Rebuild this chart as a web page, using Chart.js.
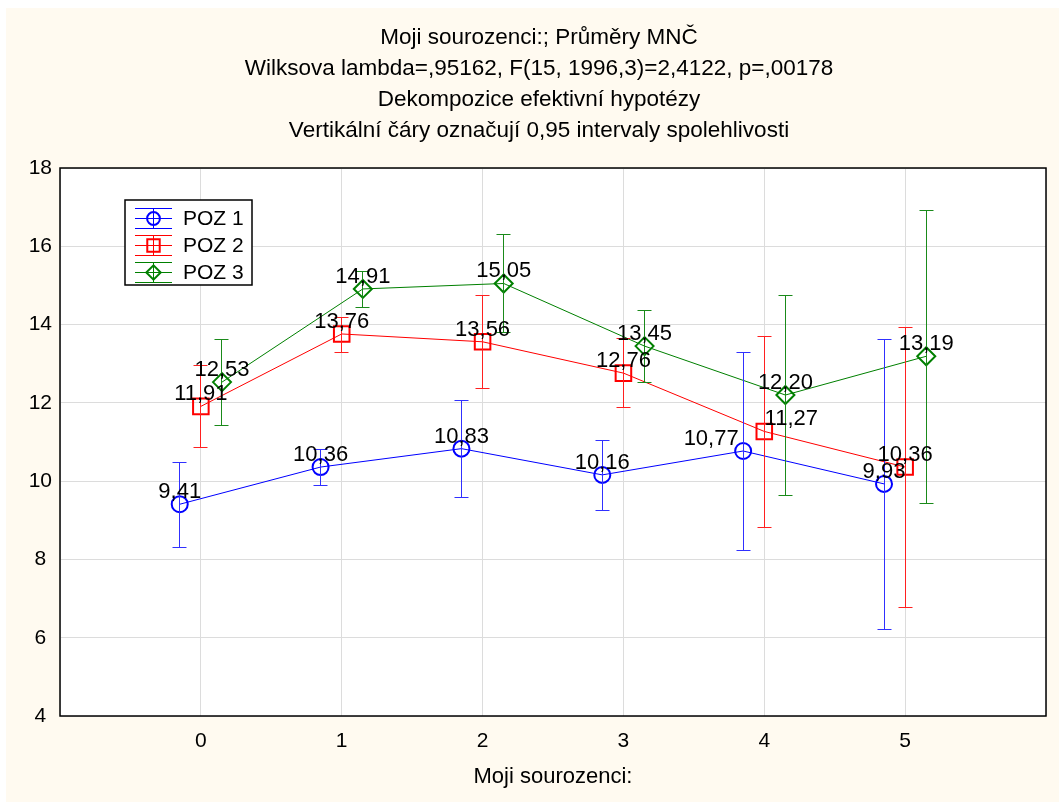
<!DOCTYPE html>
<html>
<head>
<meta charset="utf-8">
<script src="https://cdn.jsdelivr.net/npm/chart.js@4"></script>
<style>
body { margin: 0; background: #ffffff; }
#chart1 { display: block; }
</style>
</head>
<body>
<canvas id="chart1" width="1059" height="802"></canvas>
<script>
var categories = [0, 1, 2, 3, 4, 5];
var seriesNames = ["POZ 1", "POZ 2", "POZ 3"];

var poz1Mean = [9.41, 10.36, 10.83, 10.16, 10.77, 9.93];
var poz1Lo = [8.33, 9.90, 9.60, 9.26, 8.24, 6.22];
var poz1Hi = [10.50, 10.81, 12.07, 11.05, 13.31, 13.63];

var poz2Mean = [11.91, 13.76, 13.56, 12.76, 11.27, 10.36];
var poz2Lo = [10.87, 13.31, 12.37, 11.89, 8.82, 6.78];
var poz2Hi = [12.97, 14.20, 14.76, 13.65, 13.72, 13.95];

var poz3Mean = [12.53, 14.91, 15.05, 13.45, 12.20, 13.19];
var poz3Lo = [11.43, 14.44, 13.82, 12.54, 9.65, 9.45];
var poz3Hi = [13.62, 15.38, 16.31, 14.37, 14.76, 16.93];

var yTicks = [4, 6, 8, 10, 12, 14, 16, 18];

var titleLines = [
    "Moji sourozenci:; Průměry MNČ",
    "Wilksova lambda=,95162, F(15, 1996,3)=2,4122, p=,00178",
    "Dekompozice efektivní hypotézy",
    "Vertikální čáry označují 0,95 intervaly spolehlivosti"
];
var xTitle = "Moji sourozenci:";

var FONT = "'Liberation Sans', Arial, sans-serif";
var colors = ['#0000ff', '#ff0000', '#008000'];
var barColors = ['#3030ff', '#ff2020', '#1a8a1a'];
var shapes = ['circle', 'rect', 'rectRot'];
var radii = [8, 11, 9];
var shift = [-0.15, 0, 0.15];
// a couple of labels are pushed sideways to dodge overlaps (px)
var labelNudge = { '0:4': -32, '1:4': 27 };

var means = [poz1Mean, poz2Mean, poz3Mean];
var lows = [poz1Lo, poz2Lo, poz3Lo];
var highs = [poz1Hi, poz2Hi, poz3Hi];

function pts(k) {
    return categories.map(function (c, i) {
        return { x: c + shift[k], y: means[k][i], lo: lows[k][i], hi: highs[k][i] };
    });
}

var datasets = seriesNames.map(function (name, k) {
    return {
        label: name,
        data: pts(k),
        showLine: true,
        borderColor: colors[k],
        backgroundColor: 'rgba(0,0,0,0)',
        borderWidth: 1,
        pointStyle: shapes[k],
        pointRadius: radii[k],
        pointBorderWidth: 2,
        pointBorderColor: colors[k],
        pointBackgroundColor: 'rgba(0,0,0,0)'
    };
});

var backdrop = {
    id: 'backdrop',
    beforeDraw: function (chart) {
        var ctx = chart.ctx, a = chart.chartArea;
        ctx.save();
        ctx.fillStyle = '#ffffff';
        ctx.fillRect(0, 0, chart.width, chart.height);
        ctx.fillStyle = '#fffaf0';
        ctx.fillRect(6, 8, chart.width - 6, chart.height - 8);
        ctx.fillStyle = '#ffffff';
        ctx.fillRect(a.left, a.top, a.right - a.left, a.bottom - a.top);
        // title block, centred a bit left of the plot centre like the original
        ctx.fillStyle = '#000000';
        ctx.font = '22.5px ' + FONT;
        ctx.textAlign = 'center';
        ctx.textBaseline = 'middle';
        titleLines.forEach(function (line, i) {
            ctx.fillText(line, 539, 38 + i * 31);
        });
        ctx.restore();
    }
};

function drawErrorBars(chart) {
    var ctx = chart.ctx, xs = chart.scales.x, ys = chart.scales.y;
    ctx.save();
    ctx.lineWidth = 1;
    chart.data.datasets.forEach(function (ds, k) {
        ctx.strokeStyle = barColors[k];
        ds.data.forEach(function (p) {
            var px = Math.round(xs.getPixelForValue(p.x) - 0.5) + 0.5;
            var top = Math.round(ys.getPixelForValue(p.hi)) + 0.5;
            var bot = Math.round(ys.getPixelForValue(p.lo)) + 0.5;
            ctx.beginPath();
            ctx.moveTo(px, top); ctx.lineTo(px, bot);
            ctx.moveTo(px - 7, top); ctx.lineTo(px + 7, top);
            ctx.moveTo(px - 7, bot); ctx.lineTo(px + 7, bot);
            ctx.stroke();
        });
    });
    ctx.restore();
}

var valueLabels = {
    id: 'valueLabels',
    afterDatasetsDraw: function (chart) {
        drawErrorBars(chart);
        var ctx = chart.ctx;
        ctx.save();
        ctx.font = '22px ' + FONT;
        ctx.fillStyle = '#000000';
        ctx.textAlign = 'center';
        ctx.textBaseline = 'alphabetic';
        chart.data.datasets.forEach(function (ds, k) {
            var meta = chart.getDatasetMeta(k);
            meta.data.forEach(function (el, i) {
                var dx = labelNudge[k + ':' + i] || 0;
                var txt = ds.data[i].y.toFixed(2).replace('.', ',');
                ctx.fillText(txt, el.x + dx, el.y - 6);
            });
        });
        // frame of the plot area
        var a = chart.chartArea;
        ctx.strokeStyle = '#000000';
        ctx.lineWidth = 1.5;
        ctx.strokeRect(a.left, a.top, a.right - a.left, a.bottom - a.top);
        ctx.restore();
    }
};

var boxLegend = {
    id: 'boxLegend',
    afterDraw: function (chart) {
        var ctx = chart.ctx;
        var bx = 125, by = 200, bw = 127, bh = 85;
        ctx.save();
        ctx.fillStyle = '#ffffff';
        ctx.fillRect(bx, by, bw, bh);
        ctx.strokeStyle = '#000000';
        ctx.lineWidth = 1.5;
        ctx.strokeRect(bx, by, bw, bh);
        ctx.font = '21px ' + FONT;
        ctx.textBaseline = 'middle';
        ctx.textAlign = 'left';
        seriesNames.forEach(function (name, k) {
            var cy = 218.5 + k * 27;
            var x0 = 135, x1 = 172, cx = 153.5;
            ctx.strokeStyle = colors[k];
            ctx.lineWidth = 1;
            ctx.beginPath();
            ctx.moveTo(x0, cy); ctx.lineTo(x1, cy);
            ctx.moveTo(x0, cy - 10); ctx.lineTo(x1, cy - 10);
            ctx.moveTo(x0, cy + 10); ctx.lineTo(x1, cy + 10);
            ctx.moveTo(cx, cy - 10); ctx.lineTo(cx, cy + 10);
            ctx.stroke();
            ctx.lineWidth = 2;
            ctx.fillStyle = 'rgba(0,0,0,0)';
            Chart.helpers.drawPoint(ctx, { pointStyle: shapes[k], radius: radii[k] * 0.8, borderWidth: 2 }, cx, cy);
            ctx.fillStyle = '#000000';
            ctx.fillText(name, 183, cy + 1);
        });
        ctx.restore();
    }
};

var chartCanvas1 = document.getElementById('chart1');
var configCanvas1 = {
    type: 'scatter',
    data: { datasets: datasets },
    options: {
        responsive: false,
        animation: false,
        devicePixelRatio: 1,
        layout: { padding: { left: 0, right: 3, top: 168, bottom: 0 } },
        plugins: {
            legend: { display: false },
            tooltip: { enabled: false },
            title: { display: false }
        },
        scales: {
            x: {
                type: 'linear',
                min: -1,
                max: 6,
                afterFit: function (s) { s.height = 86; },
                afterBuildTicks: function (s) {
                    s.ticks = [-1].concat(categories, [6]).map(function (v) { return { value: v }; });
                },
                ticks: {
                    color: '#000000',
                    font: { family: FONT, size: 21 },
                    padding: 13,
                    maxRotation: 0,
                    callback: function (v) { return categories.indexOf(v) >= 0 ? String(v) : ''; }
                },
                grid: { color: '#dcdcdc', lineWidth: 1, drawTicks: false },
                border: { display: false },
                title: {
                    display: true,
                    text: xTitle,
                    color: '#000000',
                    font: { family: FONT, size: 22 },
                    padding: { top: 0, bottom: 12 }
                }
            },
            y: {
                min: 4,
                max: 18,
                afterFit: function (s) { s.width = 60; },
                afterBuildTicks: function (s) {
                    s.ticks = yTicks.map(function (v) { return { value: v }; });
                },
                ticks: {
                    color: '#000000',
                    font: { family: FONT, size: 21 },
                    padding: 8,
                    crossAlign: 'center'
                },
                grid: { color: '#dcdcdc', lineWidth: 1, drawTicks: false },
                border: { display: false }
            }
        }
    },
    plugins: [backdrop, valueLabels, boxLegend]
};

var myChart1 = new Chart(chartCanvas1, configCanvas1);
</script>
</body>
</html>
